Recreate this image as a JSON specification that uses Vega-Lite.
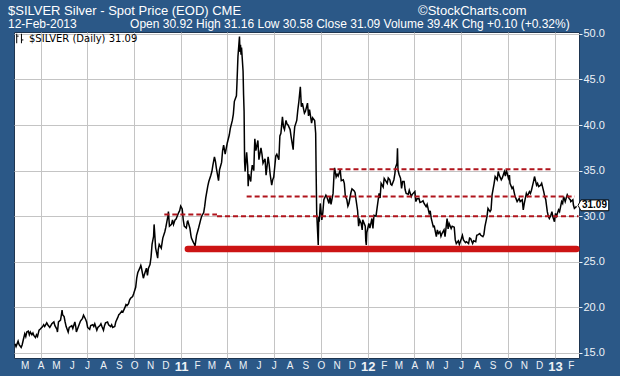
{
  "$schema": "https://vega.github.io/schema/vega-lite/v6.json",
  "width": 565,
  "height": 326,
  "autosize": {"type": "none"},
  "padding": {"left": 14, "top": 32, "right": 41, "bottom": 18},
  "background": "#2b5887",
  "config": {"view": {"fill": "white", "stroke": "#1e3550", "strokeWidth": 1}, "font": "Liberation Sans"},
  "title": {
    "text": "$SILVER Silver - Spot Price (EOD) CME\u00a0\u00a0\u00a0\u00a0\u00a0\u00a0\u00a0\u00a0\u00a0\u00a0\u00a0\u00a0\u00a0\u00a0\u00a0\u00a0\u00a0\u00a0\u00a0\u00a0\u00a0\u00a0\u00a0\u00a0\u00a0\u00a0\u00a0\u00a0\u00a0\u00a0\u00a0\u00a0\u00a0\u00a0\u00a0\u00a0\u00a0\u00a0\u00a0\u00a0\u00a0\u00a0\u00a0\u00a0\u00a0\u00a0\u00a0\u00a0\u00a0©StockCharts.com",
    "subtitle": "\u00a0\u00a0\u00a0\u00a012-Feb-2013\u00a0\u00a0\u00a0\u00a0\u00a0\u00a0\u00a0\u00a0\u00a0\u00a0\u00a0\u00a0\u00a0\u00a0\u00a0\u00a0Open 30.92 High 31.16 Low 30.58 Close 31.09 Volume 39.4K Chg +0.10 (+0.32%)",
    "anchor": "start",
    "frame": "group",
    "dx": -6,
    "dy": 2,
    "offset": 0,
    "color": "white",
    "font": "Liberation Sans",
    "fontSize": 13,
    "fontWeight": "normal",
    "subtitleColor": "white",
    "subtitleFont": "Liberation Sans",
    "subtitleFontSize": 12,
    "subtitlePadding": 1
  },
  "datasets": {
    "px": [
      {"d":"2010-02-10","v":16.0},{"d":"2010-02-12","v":15.7},{"d":"2010-02-16","v":16.3},{"d":"2010-02-18","v":15.9},{"d":"2010-02-22","v":15.6},{"d":"2010-02-24","v":15.9},{"d":"2010-02-26","v":16.4},
      {"d":"2010-03-01","v":17.1},{"d":"2010-03-03","v":16.8},{"d":"2010-03-05","v":17.3},{"d":"2010-03-08","v":17.4},{"d":"2010-03-10","v":17.0},{"d":"2010-03-12","v":17.3},{"d":"2010-03-15","v":17.0},{"d":"2010-03-17","v":17.2},{"d":"2010-03-19","v":16.9},{"d":"2010-03-22","v":16.7},{"d":"2010-03-24","v":17.0},{"d":"2010-03-26","v":16.8},{"d":"2010-03-29","v":17.5},{"d":"2010-03-31","v":17.6},
      {"d":"2010-04-05","v":17.9},{"d":"2010-04-07","v":18.1},{"d":"2010-04-09","v":17.9},{"d":"2010-04-13","v":18.3},{"d":"2010-04-15","v":18.1},{"d":"2010-04-19","v":17.8},{"d":"2010-04-21","v":18.0},{"d":"2010-04-23","v":18.2},{"d":"2010-04-27","v":18.4},{"d":"2010-04-29","v":18.0},
      {"d":"2010-05-03","v":17.6},{"d":"2010-05-04","v":17.3},{"d":"2010-05-06","v":18.4},{"d":"2010-05-10","v":18.6},{"d":"2010-05-12","v":19.3},{"d":"2010-05-13","v":19.7},{"d":"2010-05-14","v":19.2},{"d":"2010-05-17","v":19.0},{"d":"2010-05-19","v":18.4},{"d":"2010-05-21","v":17.9},{"d":"2010-05-25","v":17.3},{"d":"2010-05-27","v":17.8},
      {"d":"2010-06-01","v":18.0},{"d":"2010-06-03","v":17.7},{"d":"2010-06-07","v":18.4},{"d":"2010-06-09","v":17.8},{"d":"2010-06-10","v":17.3},{"d":"2010-06-14","v":17.9},{"d":"2010-06-16","v":18.2},{"d":"2010-06-18","v":18.5},{"d":"2010-06-22","v":18.8},{"d":"2010-06-24","v":19.15},{"d":"2010-06-28","v":18.7},{"d":"2010-06-30","v":18.4},
      {"d":"2010-07-02","v":17.8},{"d":"2010-07-06","v":17.6},{"d":"2010-07-08","v":18.0},{"d":"2010-07-12","v":18.1},{"d":"2010-07-14","v":17.9},{"d":"2010-07-16","v":18.2},{"d":"2010-07-20","v":17.5},{"d":"2010-07-22","v":17.8},{"d":"2010-07-26","v":18.0},{"d":"2010-07-28","v":18.2},{"d":"2010-07-30","v":17.9},
      {"d":"2010-08-02","v":17.5},{"d":"2010-08-04","v":18.0},{"d":"2010-08-06","v":18.3},{"d":"2010-08-10","v":18.4},{"d":"2010-08-12","v":18.1},{"d":"2010-08-16","v":17.9},{"d":"2010-08-18","v":18.1},{"d":"2010-08-20","v":17.8},{"d":"2010-08-24","v":17.9},{"d":"2010-08-26","v":18.4},{"d":"2010-08-30","v":18.9},
      {"d":"2010-09-01","v":19.2},{"d":"2010-09-03","v":19.3},{"d":"2010-09-07","v":19.6},{"d":"2010-09-09","v":19.5},{"d":"2010-09-13","v":20.0},{"d":"2010-09-15","v":20.3},{"d":"2010-09-17","v":20.2},{"d":"2010-09-20","v":20.4},{"d":"2010-09-22","v":20.8},{"d":"2010-09-24","v":21.0},{"d":"2010-09-28","v":21.2},{"d":"2010-09-30","v":21.5},
      {"d":"2010-10-04","v":22.2},{"d":"2010-10-06","v":23.2},{"d":"2010-10-08","v":23.8},{"d":"2010-10-12","v":24.3},{"d":"2010-10-14","v":24.6},{"d":"2010-10-15","v":24.4},{"d":"2010-10-19","v":23.2},{"d":"2010-10-21","v":23.6},{"d":"2010-10-25","v":24.3},{"d":"2010-10-27","v":23.5},{"d":"2010-10-29","v":24.3},
      {"d":"2010-11-01","v":24.7},{"d":"2010-11-03","v":25.5},{"d":"2010-11-05","v":26.9},{"d":"2010-11-08","v":27.8},{"d":"2010-11-09","v":29.1},{"d":"2010-11-10","v":28.3},{"d":"2010-11-12","v":26.5},{"d":"2010-11-16","v":25.4},{"d":"2010-11-17","v":26.3},{"d":"2010-11-19","v":26.9},{"d":"2010-11-23","v":26.5},{"d":"2010-11-26","v":27.6},{"d":"2010-11-30","v":28.3},
      {"d":"2010-12-02","v":28.8},{"d":"2010-12-06","v":30.0},{"d":"2010-12-07","v":30.5},{"d":"2010-12-09","v":28.9},{"d":"2010-12-13","v":29.1},{"d":"2010-12-15","v":29.6},{"d":"2010-12-17","v":29.1},{"d":"2010-12-20","v":29.6},{"d":"2010-12-22","v":29.7},{"d":"2010-12-27","v":30.4},{"d":"2010-12-29","v":30.6},{"d":"2010-12-31","v":31.1},
      {"d":"2011-01-03","v":30.8},{"d":"2011-01-05","v":29.6},{"d":"2011-01-07","v":28.9},{"d":"2011-01-11","v":28.7},{"d":"2011-01-13","v":29.4},{"d":"2011-01-14","v":29.45},{"d":"2011-01-18","v":28.7},{"d":"2011-01-20","v":27.9},{"d":"2011-01-21","v":27.6},{"d":"2011-01-25","v":27.1},{"d":"2011-01-27","v":26.9},{"d":"2011-01-28","v":26.7},{"d":"2011-01-31","v":27.9},
      {"d":"2011-02-02","v":28.3},{"d":"2011-02-04","v":28.7},{"d":"2011-02-08","v":29.6},{"d":"2011-02-10","v":30.0},{"d":"2011-02-14","v":30.4},{"d":"2011-02-16","v":31.1},{"d":"2011-02-18","v":32.0},{"d":"2011-02-22","v":33.3},{"d":"2011-02-24","v":33.8},{"d":"2011-02-28","v":34.5},
      {"d":"2011-03-02","v":34.9},{"d":"2011-03-04","v":35.6},{"d":"2011-03-07","v":36.5},{"d":"2011-03-09","v":36.0},{"d":"2011-03-11","v":35.2},{"d":"2011-03-15","v":33.9},{"d":"2011-03-17","v":35.1},{"d":"2011-03-21","v":35.9},{"d":"2011-03-23","v":37.2},{"d":"2011-03-25","v":37.8},{"d":"2011-03-28","v":36.8},{"d":"2011-03-30","v":37.4},
      {"d":"2011-04-01","v":38.0},{"d":"2011-04-05","v":38.9},{"d":"2011-04-07","v":39.6},{"d":"2011-04-11","v":40.5},{"d":"2011-04-13","v":41.2},{"d":"2011-04-15","v":42.6},{"d":"2011-04-19","v":43.2},{"d":"2011-04-20","v":44.5},{"d":"2011-04-21","v":46.0},{"d":"2011-04-22","v":47.5},{"d":"2011-04-25","v":49.7},{"d":"2011-04-26","v":48.0},{"d":"2011-04-27","v":48.8},{"d":"2011-04-28","v":47.7},{"d":"2011-04-29","v":48.5},
      {"d":"2011-05-02","v":45.9},{"d":"2011-05-03","v":43.3},{"d":"2011-05-04","v":41.5},{"d":"2011-05-05","v":36.0},{"d":"2011-05-06","v":34.9},{"d":"2011-05-09","v":37.0},{"d":"2011-05-11","v":35.5},{"d":"2011-05-12","v":33.3},{"d":"2011-05-13","v":34.6},{"d":"2011-05-17","v":33.8},{"d":"2011-05-18","v":34.7},{"d":"2011-05-20","v":35.6},{"d":"2011-05-23","v":35.0},{"d":"2011-05-24","v":36.9},{"d":"2011-05-25","v":38.5},{"d":"2011-05-27","v":37.2},{"d":"2011-05-31","v":38.3},
      {"d":"2011-06-02","v":36.2},{"d":"2011-06-06","v":37.5},{"d":"2011-06-08","v":36.8},{"d":"2011-06-10","v":35.8},{"d":"2011-06-14","v":36.3},{"d":"2011-06-16","v":34.5},{"d":"2011-06-20","v":36.5},{"d":"2011-06-22","v":35.7},{"d":"2011-06-24","v":34.6},{"d":"2011-06-27","v":33.4},{"d":"2011-06-29","v":34.0},
      {"d":"2011-07-01","v":34.3},{"d":"2011-07-05","v":36.6},{"d":"2011-07-07","v":36.8},{"d":"2011-07-11","v":36.2},{"d":"2011-07-13","v":38.8},{"d":"2011-07-15","v":39.1},{"d":"2011-07-18","v":40.9},{"d":"2011-07-20","v":39.8},{"d":"2011-07-22","v":39.5},{"d":"2011-07-25","v":40.5},{"d":"2011-07-27","v":40.1},{"d":"2011-07-29","v":40.0},
      {"d":"2011-08-02","v":39.5},{"d":"2011-08-04","v":38.7},{"d":"2011-08-08","v":37.3},{"d":"2011-08-09","v":38.5},{"d":"2011-08-11","v":39.8},{"d":"2011-08-15","v":40.5},{"d":"2011-08-17","v":41.6},{"d":"2011-08-19","v":42.5},{"d":"2011-08-22","v":44.2},{"d":"2011-08-24","v":42.0},{"d":"2011-08-26","v":42.4},{"d":"2011-08-30","v":41.3},
      {"d":"2011-09-01","v":41.5},{"d":"2011-09-05","v":42.4},{"d":"2011-09-07","v":41.0},{"d":"2011-09-09","v":41.7},{"d":"2011-09-13","v":40.2},{"d":"2011-09-15","v":40.8},{"d":"2011-09-19","v":40.5},{"d":"2011-09-21","v":39.1},{"d":"2011-09-22","v":34.4},{"d":"2011-09-23","v":30.4},{"d":"2011-09-26","v":26.85},{"d":"2011-09-27","v":29.95},{"d":"2011-09-28","v":29.4},{"d":"2011-09-30","v":31.4},
      {"d":"2011-10-03","v":29.6},{"d":"2011-10-05","v":30.4},{"d":"2011-10-07","v":31.8},{"d":"2011-10-11","v":32.3},{"d":"2011-10-13","v":32.1},{"d":"2011-10-17","v":31.4},{"d":"2011-10-19","v":32.2},{"d":"2011-10-21","v":31.3},{"d":"2011-10-25","v":32.5},{"d":"2011-10-27","v":34.7},{"d":"2011-10-28","v":35.3},{"d":"2011-10-31","v":34.3},
      {"d":"2011-11-02","v":34.6},{"d":"2011-11-04","v":34.4},{"d":"2011-11-08","v":35.1},{"d":"2011-11-10","v":33.9},{"d":"2011-11-14","v":34.0},{"d":"2011-11-16","v":33.6},{"d":"2011-11-18","v":32.2},{"d":"2011-11-21","v":31.8},{"d":"2011-11-23","v":31.1},{"d":"2011-11-25","v":31.4},{"d":"2011-11-29","v":32.6},
      {"d":"2011-12-01","v":33.0},{"d":"2011-12-05","v":32.8},{"d":"2011-12-07","v":32.6},{"d":"2011-12-09","v":31.8},{"d":"2011-12-12","v":30.6},{"d":"2011-12-14","v":28.9},{"d":"2011-12-16","v":29.6},{"d":"2011-12-19","v":29.2},{"d":"2011-12-21","v":28.5},{"d":"2011-12-22","v":29.6},{"d":"2011-12-27","v":28.9},{"d":"2011-12-28","v":27.3},{"d":"2011-12-29","v":26.85},{"d":"2011-12-30","v":28.2},
      {"d":"2012-01-03","v":29.2},{"d":"2012-01-05","v":28.7},{"d":"2012-01-09","v":29.75},{"d":"2012-01-11","v":28.65},{"d":"2012-01-13","v":30.1},{"d":"2012-01-17","v":30.0},{"d":"2012-01-19","v":30.85},{"d":"2012-01-23","v":32.5},{"d":"2012-01-25","v":32.0},{"d":"2012-01-27","v":33.6},{"d":"2012-01-31","v":33.2},
      {"d":"2012-02-02","v":34.15},{"d":"2012-02-06","v":33.8},{"d":"2012-02-08","v":33.6},{"d":"2012-02-10","v":34.2},{"d":"2012-02-13","v":34.0},{"d":"2012-02-15","v":33.5},{"d":"2012-02-17","v":33.4},{"d":"2012-02-21","v":34.0},{"d":"2012-02-23","v":34.7},{"d":"2012-02-24","v":35.3},{"d":"2012-02-27","v":35.8},{"d":"2012-02-28","v":37.45},{"d":"2012-02-29","v":35.05},
      {"d":"2012-03-02","v":34.6},{"d":"2012-03-05","v":34.15},{"d":"2012-03-07","v":33.05},{"d":"2012-03-09","v":33.8},{"d":"2012-03-12","v":33.8},{"d":"2012-03-14","v":32.9},{"d":"2012-03-16","v":32.5},{"d":"2012-03-20","v":32.4},{"d":"2012-03-22","v":32.85},{"d":"2012-03-26","v":32.15},{"d":"2012-03-28","v":32.4},
      {"d":"2012-04-02","v":32.7},{"d":"2012-04-04","v":31.6},{"d":"2012-04-06","v":31.9},{"d":"2012-04-10","v":31.95},{"d":"2012-04-12","v":31.5},{"d":"2012-04-16","v":31.6},{"d":"2012-04-18","v":31.7},{"d":"2012-04-20","v":31.4},{"d":"2012-04-24","v":31.05},{"d":"2012-04-26","v":31.3},{"d":"2012-04-30","v":30.3},
      {"d":"2012-05-02","v":30.6},{"d":"2012-05-04","v":29.75},{"d":"2012-05-08","v":28.85},{"d":"2012-05-10","v":28.9},{"d":"2012-05-14","v":27.75},{"d":"2012-05-16","v":28.5},{"d":"2012-05-18","v":28.1},{"d":"2012-05-21","v":28.3},{"d":"2012-05-23","v":27.8},{"d":"2012-05-25","v":28.1},{"d":"2012-05-29","v":28.5},{"d":"2012-05-31","v":27.75},
      {"d":"2012-06-04","v":29.75},{"d":"2012-06-06","v":28.6},{"d":"2012-06-08","v":29.2},{"d":"2012-06-12","v":28.65},{"d":"2012-06-14","v":28.9},{"d":"2012-06-18","v":28.8},{"d":"2012-06-20","v":27.4},{"d":"2012-06-22","v":27.0},{"d":"2012-06-26","v":27.3},{"d":"2012-06-28","v":26.9},
      {"d":"2012-07-02","v":27.55},{"d":"2012-07-04","v":27.9},{"d":"2012-07-06","v":27.4},{"d":"2012-07-10","v":27.1},{"d":"2012-07-12","v":27.2},{"d":"2012-07-16","v":27.0},{"d":"2012-07-18","v":27.6},{"d":"2012-07-20","v":27.55},{"d":"2012-07-24","v":27.0},{"d":"2012-07-26","v":27.3},{"d":"2012-07-30","v":27.2},
      {"d":"2012-08-01","v":27.9},{"d":"2012-08-03","v":27.95},{"d":"2012-08-07","v":28.1},{"d":"2012-08-09","v":27.9},{"d":"2012-08-13","v":27.75},{"d":"2012-08-15","v":28.0},{"d":"2012-08-17","v":28.85},{"d":"2012-08-21","v":29.95},{"d":"2012-08-23","v":30.85},{"d":"2012-08-27","v":30.5},{"d":"2012-08-29","v":30.7},{"d":"2012-08-31","v":32.35},
      {"d":"2012-09-04","v":33.6},{"d":"2012-09-06","v":34.35},{"d":"2012-09-10","v":34.0},{"d":"2012-09-12","v":34.9},{"d":"2012-09-14","v":34.5},{"d":"2012-09-18","v":34.0},{"d":"2012-09-20","v":34.2},{"d":"2012-09-24","v":34.9},{"d":"2012-09-26","v":34.4},{"d":"2012-09-28","v":35.05},
      {"d":"2012-10-02","v":34.15},{"d":"2012-10-04","v":34.5},{"d":"2012-10-05","v":33.6},{"d":"2012-10-09","v":33.05},{"d":"2012-10-11","v":33.2},{"d":"2012-10-15","v":32.15},{"d":"2012-10-17","v":31.9},{"d":"2012-10-19","v":31.6},{"d":"2012-10-23","v":31.95},{"d":"2012-10-25","v":31.6},{"d":"2012-10-29","v":31.8},{"d":"2012-10-31","v":30.7},
      {"d":"2012-11-02","v":31.4},{"d":"2012-11-06","v":32.5},{"d":"2012-11-08","v":32.2},{"d":"2012-11-12","v":32.7},{"d":"2012-11-14","v":32.5},{"d":"2012-11-16","v":32.85},{"d":"2012-11-20","v":33.8},{"d":"2012-11-22","v":34.35},{"d":"2012-11-26","v":33.4},{"d":"2012-11-28","v":33.6},{"d":"2012-11-30","v":33.25},
      {"d":"2012-12-04","v":33.4},{"d":"2012-12-06","v":33.6},{"d":"2012-12-10","v":32.7},{"d":"2012-12-12","v":32.15},{"d":"2012-12-14","v":31.8},{"d":"2012-12-17","v":30.5},{"d":"2012-12-19","v":30.0},{"d":"2012-12-21","v":29.75},{"d":"2012-12-24","v":30.1},{"d":"2012-12-26","v":30.5},{"d":"2012-12-28","v":29.9},{"d":"2012-12-31","v":29.4},
      {"d":"2013-01-02","v":30.3},{"d":"2013-01-04","v":30.0},{"d":"2013-01-08","v":30.7},{"d":"2013-01-10","v":30.5},{"d":"2013-01-14","v":31.6},{"d":"2013-01-16","v":31.4},{"d":"2013-01-18","v":32.15},{"d":"2013-01-21","v":31.6},{"d":"2013-01-23","v":32.0},{"d":"2013-01-25","v":32.35},{"d":"2013-01-29","v":31.9},{"d":"2013-01-31","v":31.8},
      {"d":"2013-02-01","v":31.6},{"d":"2013-02-05","v":31.8},{"d":"2013-02-06","v":31.25},{"d":"2013-02-08","v":30.85},{"d":"2013-02-11","v":31.0},{"d":"2013-02-12","v":31.09}
    ],
    "dashed": [
      {"a":"2010-11-29","b":"2011-03-12","v":30.2},
      {"a":"2011-03-12","b":"2013-02-16","v":30.0},
      {"a":"2011-05-09","b":"2013-02-09","v":32.15},
      {"a":"2011-10-18","b":"2012-12-26","v":35.15}
    ],
    "support": [{"a":"2011-01-14","b":"2013-02-12","v":26.4}],
    "last": [{"d":"2013-02-12","v":31.09}]
  },
  "layer": [
    {
      "data": {"name": "px"},
      "mark": {"type": "line", "strokeWidth": 1.5, "interpolate": "linear"},
      "encoding": {
        "x": {
          "field": "d", "type": "temporal",
          "scale": {"domain": [{"year": 2010, "month": 2, "date": 8}, {"year": 2013, "month": 2, "date": 17}], "nice": false},
          "axis": {
            "title": null,
            "tickCount": {"interval": "month", "step": 1},
            "labelExpr": "month(datum.value)==0 ? timeFormat(datum.value,'%y') : slice(timeFormat(datum.value,'%b'),0,1)",
            "labelFontWeight": {"condition": {"test": "month(datum.value)==0", "value": "bold"}, "value": "normal"},
            "labelFontSize": {"condition": {"test": "month(datum.value)==0", "value": 13}, "value": 10},
            "labelColor": "#eef2f6",
            "labelFont": "Liberation Sans",
            "labelPadding": 2,
            "labelOverlap": false,
            "labelFlush": false,
            "ticks": false,
            "domain": false,
            "gridColor": "#c4c4c4",
            "gridOpacity": {"condition": {"test": "month(datum.value)%3==0", "value": 1}, "value": 0}
          }
        },
        "y": {
          "field": "v", "type": "quantitative",
          "scale": {"domain": [14.45, 50.2], "nice": false, "zero": false},
          "axis": {
            "title": null,
            "orient": "right",
            "values": [15, 17.5, 20, 22.5, 25, 27.5, 30, 32.5, 35, 37.5, 40, 42.5, 45, 47.5, 50],
            "format": ".1f",
            "labelColor": "#eef2f6",
            "labelFont": "Liberation Sans",
            "labelFontSize": 11,
            "labelPadding": 1,
            "tickSize": 3,
            "tickColor": "#eef2f6",
            "domain": false,
            "gridColor": "#c4c4c4"
          }
        },
        "color": {
          "datum": "$SILVER (Daily) 31.09",
          "scale": {"range": ["black"]},
          "legend": {
            "title": null,
            "orient": "top-left",
            "offset": 0,
            "padding": 1,
            "labelFont": "DejaVu Sans",
            "labelFontSize": 10,
            "labelColor": "black",
            "labelOffset": 3,
            "symbolType": "M-0.8,-1V1M-0.8,-0.5H-0.4M0.2,-1V1M0.2,0.3H0.6",
            "symbolSize": 90,
            "symbolStrokeWidth": 1,
            "symbolStrokeColor": "black",
            "symbolFillColor": "transparent"
          }
        }
      }
    },
    {
      "data": {"name": "dashed"},
      "mark": {"type": "rule", "color": "#b0141c", "strokeWidth": 2, "strokeDash": [5, 3]},
      "encoding": {
        "x": {"field": "a", "type": "temporal"},
        "x2": {"field": "b"},
        "y": {"field": "v", "type": "quantitative"}
      }
    },
    {
      "data": {"name": "support"},
      "mark": {"type": "rule", "color": "#cc1414", "strokeWidth": 6.5, "strokeCap": "round"},
      "encoding": {
        "x": {"field": "a", "type": "temporal"},
        "x2": {"field": "b"},
        "y": {"field": "v", "type": "quantitative"}
      }
    },
    {
      "data": {"name": "last"},
      "mark": {"type": "point", "shape": "M0.053,-0.03L0.15,-0.21L1.077,-0.21L1.077,0.15L0.15,0.15Z", "size": 3600, "filled": true, "fill": "white", "stroke": "black", "strokeWidth": 1, "opacity": 1},
      "encoding": {
        "x": {"field": "d", "type": "temporal"},
        "y": {"field": "v", "type": "quantitative"}
      }
    },
    {
      "data": {"name": "last"},
      "mark": {"type": "text", "align": "center", "baseline": "middle", "dx": 18, "dy": -1, "fontWeight": "bold", "fontSize": 10, "font": "Liberation Sans", "color": "black"},
      "encoding": {
        "x": {"field": "d", "type": "temporal"},
        "y": {"field": "v", "type": "quantitative"},
        "text": {"field": "v", "type": "quantitative", "format": ".2f"}
      }
    }
  ]
}
